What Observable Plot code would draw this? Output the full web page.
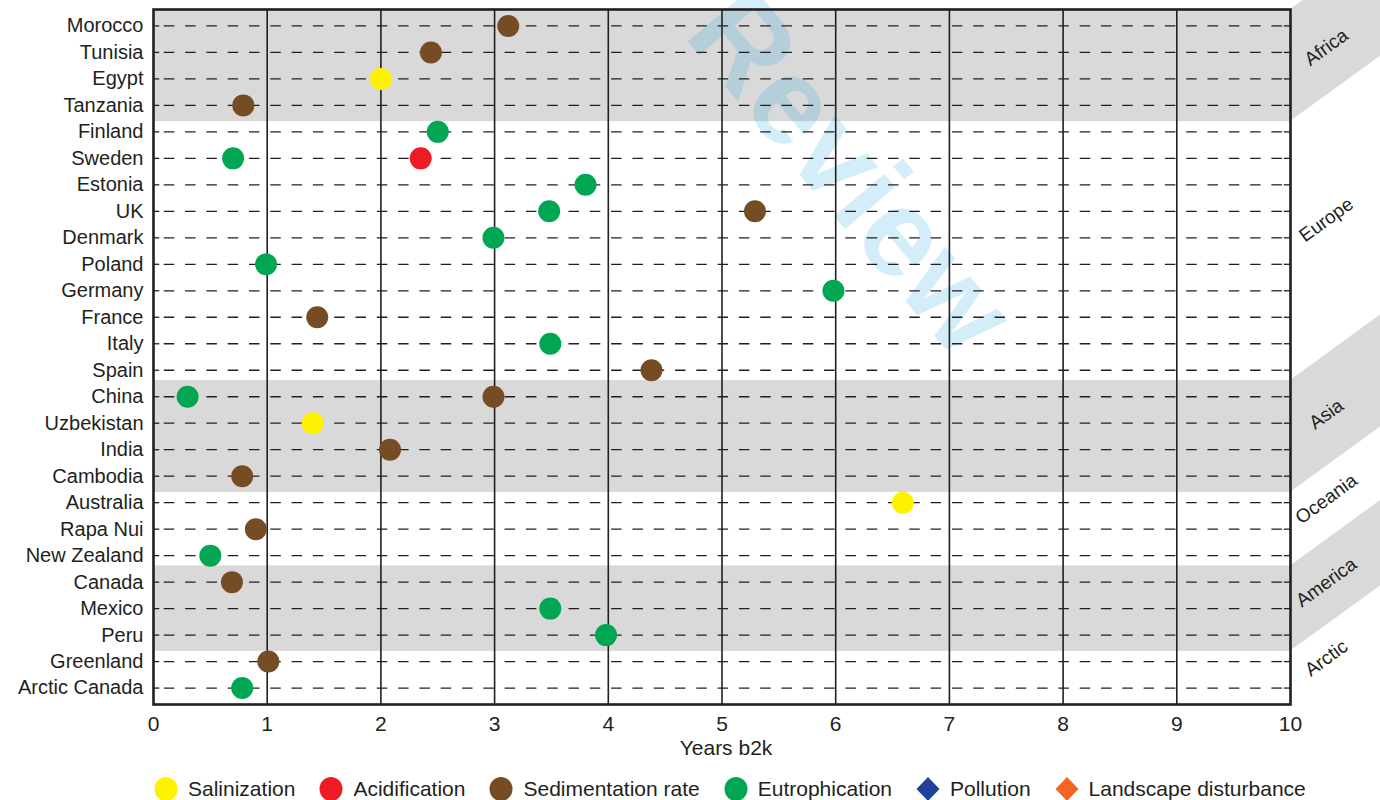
<!DOCTYPE html>
<html>
<head>
<meta charset="utf-8">
<script src="https://cdn.jsdelivr.net/npm/d3@7"></script>
<script src="https://cdn.jsdelivr.net/npm/@observablehq/plot@0.6"></script>
<style>
  html, body { margin: 0; padding: 0; background: #fff; }
  body { width: 1380px; height: 800px; overflow: hidden; font-family: "Liberation Sans", Arial, Helvetica, sans-serif; color: #231F20; }
  #legend { display: flex; align-items: center; height: 40px; padding-left: 154px; box-sizing: border-box; padding-top: 18px; }
  .item { display: flex; align-items: center; margin-right: 24px; font-size: 21px; }
  .item svg { margin-right: 10px; display: block; }
</style>
</head>
<body>
<div id="chart"></div>
<div id="legend"></div>
<script>
// ---------- data ----------
const countries = ["Morocco","Tunisia","Egypt","Tanzania","Finland","Sweden","Estonia","UK","Denmark","Poland","Germany","France","Italy","Spain","China","Uzbekistan","India","Cambodia","Australia","Rapa Nui","New Zealand","Canada","Mexico","Peru","Greenland","Arctic Canada"];

const regionNames = ["Africa","Europe","Asia","Oceania","America","Arctic"];
const regionFirst = ["Morocco","Finland","China","Australia","Canada","Greenland"];
const regionLast  = ["Tanzania","Spain","Cambodia","New Zealand","Peru","Arctic Canada"];
const regionShaded = [true,false,true,false,true,false];

const types  = ["Salinization","Acidification","Sedimentation rate","Eutrophication","Pollution","Landscape disturbance"];
const colors = ["#FFF200","#ED1C24","#754C24","#00A651","#21409A","#F26522"];
const shapes = ["circle","circle","circle","circle","diamond","diamond"];

const pointCountry = ["Morocco","Tunisia","Egypt","Tanzania","Finland","Sweden","Sweden","Estonia","UK","UK","Denmark","Poland","Germany","France","Italy","Spain","China","China","Uzbekistan","India","Cambodia","Australia","Rapa Nui","New Zealand","Canada","Mexico","Peru","Greenland","Arctic Canada"];
const pointValue   = [3.12, 2.44, 2.0, 0.79, 2.5, 0.70, 2.35, 3.8, 3.48, 5.29, 2.99, 0.99, 5.98, 1.44, 3.49, 4.38, 0.30, 2.99, 1.40, 2.08, 0.78, 6.59, 0.90, 0.50, 0.69, 3.49, 3.98, 1.01, 0.78];
const pointType    = ["Sedimentation rate","Sedimentation rate","Salinization","Sedimentation rate","Eutrophication","Eutrophication","Acidification","Eutrophication","Eutrophication","Sedimentation rate","Eutrophication","Eutrophication","Eutrophication","Sedimentation rate","Eutrophication","Sedimentation rate","Eutrophication","Sedimentation rate","Salinization","Sedimentation rate","Sedimentation rate","Salinization","Sedimentation rate","Eutrophication","Sedimentation rate","Eutrophication","Eutrophication","Sedimentation rate","Eutrophication"];

const xTicks = [0,1,2,3,4,5,6,7,8,9,10];
const gridTicks = [1,2,3,4,5,6,7,8,9];
const xLabel = "Years b2k";
const watermark = "Review";

// ---------- derived tables ----------
const points = pointCountry.map((c, i) => ({country: c, value: pointValue[i], type: pointType[i]}));
const shadedCountries = [];
regionNames.forEach((r, i) => {
  if (!regionShaded[i]) return;
  const a = countries.indexOf(regionFirst[i]), b = countries.indexOf(regionLast[i]);
  for (let k = a; k <= b; k++) shadedCountries.push(countries[k]);
});

const INK = "#231F20";
const FONT = "'Liberation Sans', Arial, Helvetica, sans-serif";
const BAND_EXT = 3;                       // shaded bands reach slightly past the row edges
const labelShift = [8, -5, 4, -4, 0, 8];  // fine vertical placement of the slanted labels

// Region labels on the right side (slanted bands), drawn with the plot's y scale
function regionMark(index, scales, values, dims) {
  const y = scales.y;
  const bw = typeof y.bandwidth === "function" ? y.bandwidth() : y.bandwidth;
  const x0 = dims.width - dims.marginRight;
  const x1 = dims.width;
  const t = Math.tan(36 * Math.PI / 180);
  const g = d3.create("svg:g");
  regionNames.forEach((name, i) => {
    let top = y(regionFirst[i]);
    let bottom = y(regionLast[i]) + bw;
    if (regionShaded[i]) { top -= BAND_EXT; bottom += BAND_EXT; }
    if (i === 0) top = dims.marginTop;
    if (i === regionNames.length - 1) bottom = dims.height - dims.marginBottom;
    const dx = x1 - x0;
    if (regionShaded[i]) {
      g.append("polygon")
        .attr("points", [[x0, top], [x1, top - t * dx], [x1, bottom - t * dx], [x0, bottom]].map(p => p.join(",")).join(" "))
        .attr("fill", "#D9D9D9");
    }
    const lx = x0 + 36;
    const ly = (top + bottom) / 2 - t * 36 + labelShift[i];
    g.append("text")
      .attr("transform", `translate(${lx},${ly}) rotate(-36)`)
      .attr("text-anchor", "middle")
      .attr("dy", "0.35em")
      .attr("font-size", 19)
      .attr("font-family", FONT)
      .attr("fill", INK)
      .text(name);
  });
  return g.node();
}

const plot = Plot.plot({
  width: 1380,
  height: 760,
  marginLeft: 153,
  marginRight: 90,
  marginTop: 9,
  marginBottom: 56,
  style: {fontFamily: FONT, fontSize: "21px", color: INK, background: "transparent", overflow: "visible"},
  x: {domain: [0, 10], label: null},
  y: {domain: countries, paddingInner: 0, paddingOuter: 0.12, round: false, label: null},
  color: {domain: types, range: colors},
  marks: [
    Plot.barX(shadedCountries, {y: d => d, x1: 0, x2: 10, fill: "#D9D9D9", insetTop: -BAND_EXT, insetBottom: -BAND_EXT}),
    Plot.text([watermark], {text: d => d, frameAnchor: "top", dx: 128, dy: 164, rotate: 50, fontSize: 124, fontWeight: "bold", fill: "#29ABE2", fillOpacity: 0.2, textAnchor: "middle", lineAnchor: "middle"}),
    regionMark,
    Plot.ruleY(countries, {y: d => d, x1: 0, x2: 10, stroke: INK, strokeWidth: 1.3, strokeDasharray: "10.5,10.8", strokeDashoffset: 10.5}),
    Plot.ruleX(gridTicks, {x: d => d, stroke: INK, strokeWidth: 1.6}),
    Plot.ruleY(countries, {y: d => d, x1: 0, x2: 0.055, stroke: INK, strokeWidth: 1.3}),
    Plot.ruleY(countries, {y: d => d, x1: 9.945, x2: 10, stroke: INK, strokeWidth: 1.3}),
    Plot.dot(points, {x: "value", y: "country", fill: "type", r: 11, stroke: null}),
    Plot.frame({stroke: INK, strokeWidth: 2.6}),
    Plot.axisX({ticks: xTicks, tickSize: 0, tickPadding: 12, fontSize: 21, label: null, tickFormat: d => String(d)}),
    Plot.axisY({tickSize: 0, tickPadding: 10, fontSize: 20, label: null}),
    Plot.text([xLabel], {text: d => d, frameAnchor: "bottom", dx: 4, dy: 44, fontSize: 21, fill: INK, lineAnchor: "middle"})
  ]
});
document.getElementById("chart").appendChild(plot);

// ---------- legend ----------
const legend = d3.select("#legend");
types.forEach((t, i) => {
  const item = legend.append("div").attr("class", "item");
  const s = item.append("svg").attr("width", 24).attr("height", 26);
  if (shapes[i] === "circle") {
    s.append("ellipse").attr("cx", 12).attr("cy", 13).attr("rx", 11.5).attr("ry", 12).attr("fill", colors[i]);
  } else {
    s.append("polygon").attr("points", "12,1 23.5,13 12,25 0.5,13").attr("fill", colors[i]);
  }
  item.append("span").text(t);
});
</script>
</body>
</html>
